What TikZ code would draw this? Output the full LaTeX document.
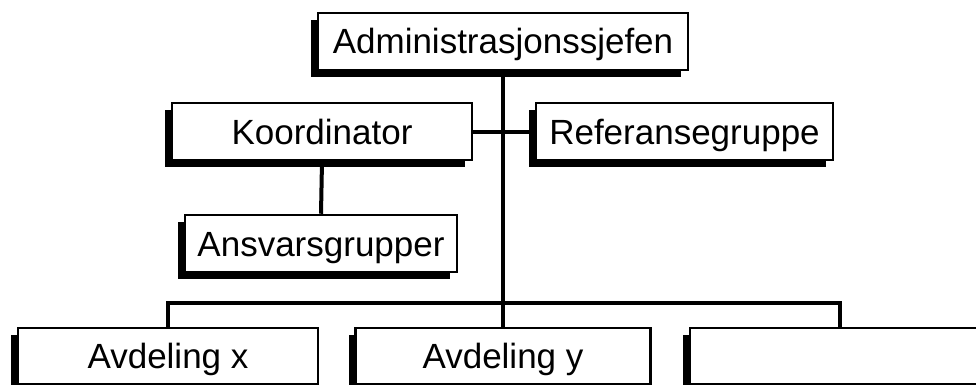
\documentclass[tikz,border=0pt]{standalone}
\usepackage{fontspec}
\setmainfont{Liberation Sans}
\usetikzlibrary{shadows}

\tikzset{
  orgbox/.style={draw, line width=2.5pt, fill=white, inner sep=0pt,
    minimum height=57pt, text height=25pt, text depth=0pt,
    font=\fontsize{35}{42}\selectfont,
    general shadow={fill=black, shadow xshift=-7pt, shadow yshift=-7pt}},
  link/.style={line width=4pt}
}

\begin{document}
\begin{tikzpicture}[x=1pt, y=-1pt]
            \useasboundingbox (0,0) rectangle (976,385);
            \node (chief) [orgbox, minimum width=370pt] at (503,41.5) {Administrasjonssjefen};
            \node (coord) [orgbox, minimum width=300pt] at (322,131.5) {Koordinator};
            \node (refgroup) [orgbox, minimum width=297pt] at (684.5,131.5) {Referansegruppe};
            \node (respgroups) [orgbox, minimum width=272pt] at (321,243.5) {Ansvarsgrupper};
            \node (deptx) [orgbox, minimum width=300pt, minimum height=56pt] at (168,356) {Avdeling x};
            \node (depty) [orgbox, minimum width=295pt, minimum height=56pt] at (503,356) {Avdeling y};
            \node (deptz) [orgbox, minimum width=300pt, minimum height=56pt] at (840,356) {};
            \coordinate (bar) at (503,303);

            \draw[link] (chief.south) -- (depty.north);
            \draw[link] (coord.east) -- (refgroup.west);
            \draw[link] (coord.south) -- (respgroups.north);
            \draw[link] (deptx.north) |- (bar) -| (deptz.north);
        \end{tikzpicture}
\end{document}
